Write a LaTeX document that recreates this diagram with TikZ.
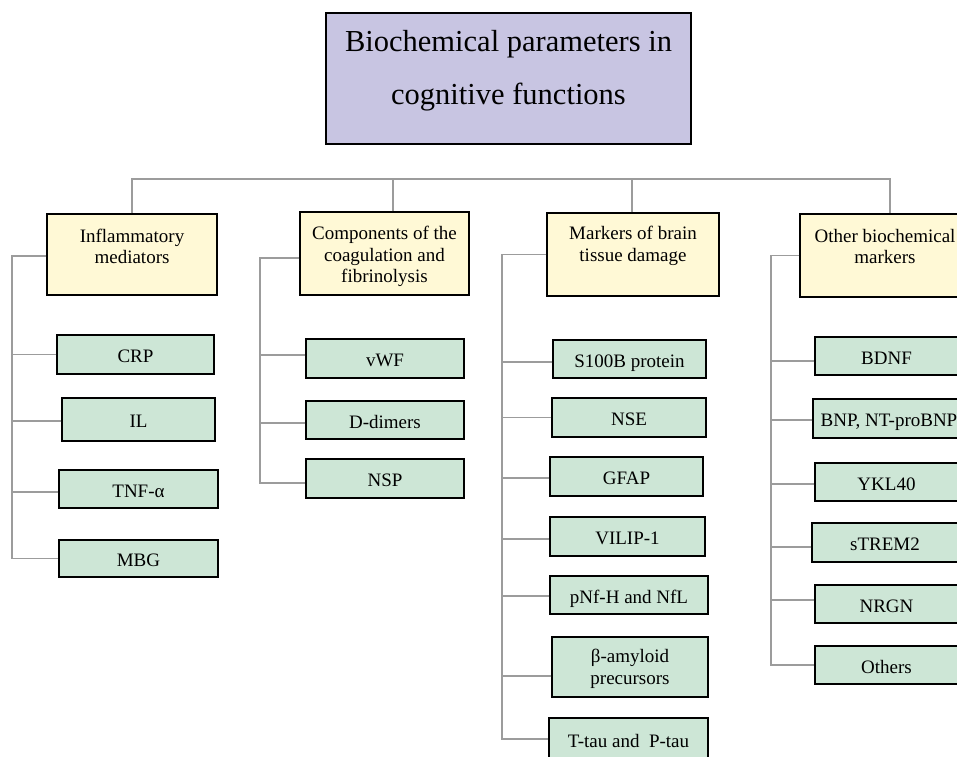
\documentclass[tikz,border=0pt]{standalone}
\usepackage{fontspec}
\setmainfont{Liberation Serif}
\definecolor{titlefill}{HTML}{C8C5E2}
\definecolor{catfill}{HTML}{FFF9D6}
\definecolor{itemfill}{HTML}{CDE6D6}
\definecolor{connclr}{HTML}{9C9C9C}
\begin{document}
\begin{tikzpicture}[x=1pt,y=-1pt,
  titlebox/.style={draw=black,line width=1.1pt,fill=titlefill,inner sep=0pt},
  catbox/.style={draw=black,line width=1.1pt,fill=catfill,inner sep=0pt},
  cattext/.style={align=center,inner sep=0pt,font=\fontsize{19}{21.5}\selectfont},
  itembox/.style={draw=black,line width=1.1pt,fill=itemfill,inner sep=0pt,align=center,text height=16.5pt,text depth=0pt,font=\fontsize{19}{22}\selectfont},
  conn/.style={draw=connclr,line width=1.5pt}]
\useasboundingbox (0,0) rectangle (957,756);
\begin{scope}
\clip (0,0) rectangle (957,756);
% title
\node[titlebox,minimum width=365,minimum height=131] (title) at (508.5,78.5) {};
\node[align=center,inner sep=0pt,font=\fontsize{30.5}{53}\selectfont] (titletext) at ([yshift=7.5]title.center) {Biochemical parameters in\\cognitive functions};
% categories
\node[catbox,minimum width=170,minimum height=81] (inf) at (132,254.5) {};
\node[cattext] (inftext) at ([yshift=8]inf.center) {Inflammatory\\mediators};
\node[catbox,minimum width=169,minimum height=83] (comp) at (384.5,253.5) {};
\node[cattext] (comptext) at ([yshift=-3]comp.center) {Components of the\\coagulation and\\fibrinolysis};
\node[catbox,minimum width=172,minimum height=83] (mark) at (633,254.5) {};
\node[cattext] (marktext) at ([yshift=8.5]mark.center) {Markers of brain\\tissue damage};
\node[catbox,minimum width=170,minimum height=83] (oth) at (885,255.5) {};
\node[cattext] (othtext) at ([yshift=9]oth.center) {Other biochemical\\markers};
% top bar
\coordinate (bar) at (500,179);
\draw[conn] (inf.north) |- ([xshift=5]oth.north |- bar) -- ([xshift=5]oth.north);
\draw[conn] ([xshift=8.5]comp.north) -- ([xshift=8.5]comp.north |- bar);
\draw[conn] ([xshift=-1]mark.north) -- ([xshift=-1]mark.north |- bar);
% group 1
\node[itembox,minimum width=157,minimum height=39] (crp) at (135.5,354.5) {CRP};
\node[itembox,minimum width=153,minimum height=43] (il) at (138.5,419.5) {IL};
\node[itembox,minimum width=159,minimum height=38] (tnf) at (138.5,489) {TNF-α};
\node[itembox,minimum width=159,minimum height=37] (mbg) at (138.5,558.5) {MBG};
\coordinate (bus1) at (12,300);
\draw[conn] ([yshift=-1.5]inf.west) -| (bus1) |- (mbg.west);
\draw[conn] (crp.west) -- (crp.west -| bus1);
\draw[conn] ([yshift=-1.5]il.west) -- ([yshift=-1.5]il.west -| bus1);
\draw[conn] ([yshift=-3]tnf.west) -- ([yshift=-3]tnf.west -| bus1);
% group 2
\node[itembox,minimum width=158,minimum height=39] (vwf) at (385,358.5) {vWF};
\node[itembox,minimum width=158,minimum height=38] (ddim) at (385,420) {D-dimers};
\node[itembox,minimum width=158,minimum height=39] (nsp) at (385,478.5) {NSP};
\coordinate (bus2) at (260,300);
\draw[conn] ([yshift=-4.5]comp.west) -| (bus2) |- ([yshift=-4.5]nsp.west);
\draw[conn] ([yshift=3.5]vwf.west) -- ([yshift=3.5]vwf.west -| bus2);
\draw[conn] ([yshift=-3]ddim.west) -- ([yshift=-3]ddim.west -| bus2);
% group 3
\node[itembox,minimum width=153,minimum height=38] (s100) at (629.5,359) {S100B protein};
\node[itembox,minimum width=154,minimum height=39] (nse) at (629,417.5) {NSE};
\node[itembox,minimum width=153,minimum height=39] (gfap) at (626.5,476.5) {GFAP};
\node[itembox,minimum width=155,minimum height=39] (vilip) at (627.5,536.5) {VILIP-1};
\node[itembox,minimum width=158,minimum height=38] (pnf) at (629,595) {pNf-H and NfL};
\node[itembox,minimum width=156,minimum height=60,text height=35.5pt] (amy) at (630,667) {β-amyloid\\precursors};
\node[itembox,minimum width=159,minimum height=42] (tau) at (628.5,739) {T-tau and~ P-tau};
\coordinate (bus3) at (502,300);
\draw[conn] (mark.west) -| (bus3) |- (tau.west);
\draw[conn] ([yshift=-3]s100.west) -- ([yshift=-3]s100.west -| bus3);
\draw[conn] (nse.west) -- (nse.west -| bus3);
\draw[conn] ([yshift=-1.5]gfap.west) -- ([yshift=-1.5]gfap.west -| bus3);
\draw[conn] ([yshift=-2.5]vilip.west) -- ([yshift=-2.5]vilip.west -| bus3);
\draw[conn] ([yshift=-1]pnf.west) -- ([yshift=-1]pnf.west -| bus3);
\draw[conn] ([yshift=-9]amy.west) -- ([yshift=-9]amy.west -| bus3);
% group 4
\node[itembox,minimum width=143,minimum height=38] (bdnf) at (886.5,356) {BDNF};
\node[itembox,minimum width=152,minimum height=39] (bnp) at (889,418.5) {BNP, NT-proBNP};
\node[itembox,minimum width=143,minimum height=38] (ykl) at (886.5,482) {YKL40};
\node[itembox,minimum width=146,minimum height=39] (strem) at (885,542.5) {sTREM2};
\node[itembox,minimum width=143,minimum height=38] (nrgn) at (886.5,604) {NRGN};
\node[itembox,minimum width=143,minimum height=38] (others) at (886.5,665) {Others};
\coordinate (bus4) at (771,300);
\draw[conn] (oth.west) -| (bus4) |- (others.west);
\draw[conn] ([yshift=-5]bdnf.west) -- ([yshift=-5]bdnf.west -| bus4);
\draw[conn] ([yshift=-1.5]bnp.west) -- ([yshift=-1.5]bnp.west -| bus4);
\draw[conn] ([yshift=-2]ykl.west) -- ([yshift=-2]ykl.west -| bus4);
\draw[conn] ([yshift=-4.5]strem.west) -- ([yshift=-4.5]strem.west -| bus4);
\draw[conn] ([yshift=4]nrgn.west) -- ([yshift=4]nrgn.west -| bus4);
\end{scope}
\end{tikzpicture}
\end{document}
